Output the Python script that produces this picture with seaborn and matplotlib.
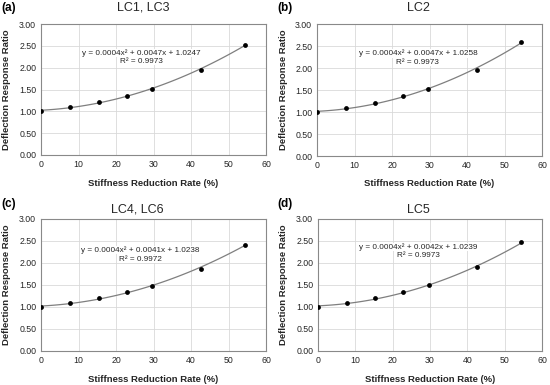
import numpy as np
import pandas as pd
import matplotlib
matplotlib.use("Agg")
import matplotlib.pyplot as plt
import seaborn as sns

sns.set_style("white")
plt.rcParams['font.family'] = ['Liberation Sans', 'DejaVu Sans']

# ---- data ----
rate = [0, 7.8, 15.4, 22.9, 29.7, 42.7, 54.3]
ratio_a = [1.00, 1.10, 1.22, 1.36, 1.51, 1.94, 2.53]
ratio_b = [0.99, 1.09, 1.21, 1.36, 1.52, 1.96, 2.59]
ratio_c = [1.00, 1.09, 1.21, 1.33, 1.48, 1.87, 2.42]
ratio_d = [1.00, 1.10, 1.21, 1.33, 1.49, 1.90, 2.47]
titles = ["LC1, LC3", "LC2", "LC4, LC6", "LC5"]
letters = ["(a)", "(b)", "(c)", "(d)"]
equations = ["y = 0.0004x² + 0.0047x + 1.0247",
             "y = 0.0004x² + 0.0047x + 1.0258",
             "y = 0.0004x² + 0.0041x + 1.0238",
             "y = 0.0004x² + 0.0042x + 1.0239"]
r2 = ["R² = 0.9973", "R² = 0.9973", "R² = 0.9972", "R² = 0.9973"]
xticks = [0, 10, 20, 30, 40, 50, 60]
yticks = [0.00, 0.50, 1.00, 1.50, 2.00, 2.50, 3.00]

series = [ratio_a, ratio_b, ratio_c, ratio_d]

W, H = 550, 385
fig = plt.figure(figsize=(5.5, 3.85), dpi=100)

# axes boxes in pixels: (left, top, right, bottom)
boxes = [(41, 24, 266, 155), (317, 24, 542, 156),
         (41, 219, 266, 351), (318, 219, 542, 351)]
eq_pos = [(26.7, 2.34, 2.15), (26.9, 2.33, 2.13), (26.4, 2.29, 2.09), (26.8, 2.37, 2.17)]
title_y = [8, 8, 210, 210]
title_x = [143, 418, 137, 418]
letter_x = [1, 277, 1, 277]
letter_y = [8, 8, 204, 204]
xlabel_y = [183, 183, 380, 380]
ylabel_x = [7, 283, 7, 283]

grid_c = "#d9d9d9"
spine_c = "#898989"

for i in range(4):
    l, t, r, b = boxes[i]
    ax = fig.add_axes([l / W, (H - b) / H, (r - l) / W, (b - t) / H])
    df = pd.DataFrame({"rate": rate, "ratio": series[i]})
    sns.regplot(data=df, x="rate", y="ratio", order=2, ci=None, scatter=False,
                line_kws=dict(color="#7f7f7f", lw=0.9), ax=ax)
    sns.scatterplot(data=df, x="rate", y="ratio", color="black", s=12,
                    edgecolor="black", linewidth=0, zorder=5, ax=ax)
    ax.set_xlim(0, 60)
    ax.set_ylim(0, 3)
    ax.set_xticks(xticks)
    ax.set_yticks(yticks)
    ax.set_xticklabels([str(v) for v in xticks])
    ax.set_yticklabels([f"{v:.2f}" for v in yticks])
    ax.tick_params(axis="both", length=0, labelsize=6.3, pad=3.5, colors="#262626")
    ax.grid(True, color=grid_c, lw=0.6)
    ax.set_axisbelow(True)
    for s in ax.spines.values():
        s.set_color(spine_c)
        s.set_linewidth(0.8)
        s.set_visible(True)
    ax.set_xlabel("")
    ax.set_ylabel("")
    ex, ey1, ey2 = eq_pos[i]
    ax.text(ex, ey1, equations[i], ha="center", va="center", fontsize=5.85,
            color="#262626", bbox=dict(facecolor="white", edgecolor="none", pad=0.2), zorder=6)
    ax.text(ex, ey2, r2[i], ha="center", va="center", fontsize=5.85,
            color="#262626", bbox=dict(facecolor="white", edgecolor="none", pad=0.2), zorder=6)
    fig.text(title_x[i] / W, 1 - title_y[i] / H, titles[i], ha="center", va="center",
             fontsize=9, color="#262626")
    fig.text(letter_x[i] / W, 1 - letter_y[i] / H, letters[i], ha="left", va="center",
             fontsize=8.5, fontweight="bold", color="black")
    fig.text((l + r) / 2 / W, 1 - xlabel_y[i] / H, "Stiffness Reduction Rate (%)",
             ha="center", va="center", fontsize=6.8, fontweight="bold", color="#262626")
    fig.text(ylabel_x[i] / W, 1 - (t + b) / 2 / H, "Deflection Response Ratio",
             ha="center", va="center", rotation=90, fontsize=6.8, fontweight="bold",
             color="#262626")

fig.savefig("out.png", dpi=100)
